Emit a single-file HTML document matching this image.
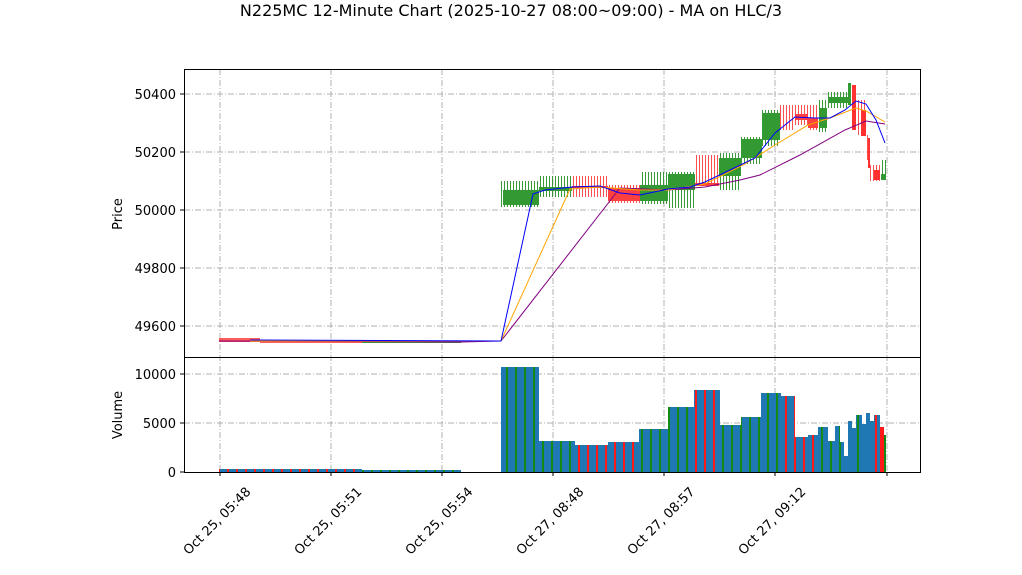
<!DOCTYPE html>
<html><head><meta charset="utf-8"><style>
html,body{margin:0;padding:0;background:#fff;}
svg{display:block;font-family:"DejaVu Sans","Liberation Sans",sans-serif;}
</style></head><body>
<svg width="1022" height="575" viewBox="0 0 1022 575" xmlns="http://www.w3.org/2000/svg">
<defs>
<pattern id="wg" width="3" height="10" patternUnits="userSpaceOnUse"><rect x="0" y="0" width="1" height="10" fill="#3a9a3a"/></pattern>
<pattern id="wr" width="3" height="10" patternUnits="userSpaceOnUse"><rect x="0" y="0" width="1" height="10" fill="#ff5050"/></pattern>
<pattern id="vg" width="9" height="10" patternUnits="userSpaceOnUse"><rect width="9" height="10" fill="#1f77b4"/><rect x="2" width="2" height="10" fill="#138a13"/></pattern>
<pattern id="vr" width="9" height="10" patternUnits="userSpaceOnUse"><rect width="9" height="10" fill="#1f77b4"/><rect x="2" width="2" height="10" fill="#ff1a1a"/></pattern>
</defs>
<rect width="1022" height="575" fill="#fff"/>
<text x="511" y="16" font-size="16" text-anchor="middle">N225MC 12-Minute Chart (2025-10-27 08:00~09:00) - MA on HLC/3</text>

<g stroke="#b0b0b0" stroke-width="1" stroke-dasharray="6,2,1,2">
<line x1="184" y1="94" x2="920" y2="94"/><line x1="184" y1="152" x2="920" y2="152"/><line x1="184" y1="210" x2="920" y2="210"/><line x1="184" y1="268" x2="920" y2="268"/><line x1="184" y1="326" x2="920" y2="326"/>
<line x1="184" y1="374" x2="920" y2="374"/><line x1="184" y1="423" x2="920" y2="423"/>
<line x1="220" y1="69" x2="220" y2="472"/><line x1="331" y1="69" x2="331" y2="472"/><line x1="442" y1="69" x2="442" y2="472"/><line x1="553" y1="69" x2="553" y2="472"/><line x1="664" y1="69" x2="664" y2="472"/><line x1="775" y1="69" x2="775" y2="472"/><line x1="887" y1="69" x2="887" y2="472"/>
</g>

<g>
<rect x="219" y="338" width="41" height="4" fill="#ff4040" opacity="0.85"/>
<rect x="260" y="340" width="102" height="3" fill="#ff4040" opacity="0.85"/>
<rect x="362" y="341" width="99" height="2" fill="#3a9a3a"/>

<rect x="501" y="181" width="38" height="26" fill="url(#wg)"/><rect x="503" y="190" width="36" height="15" fill="#339933"/>
<rect x="539" y="176" width="33" height="21" fill="url(#wg)"/><rect x="539" y="187" width="33" height="4" fill="#339933"/>
<rect x="572" y="176" width="36" height="21" fill="url(#wr)"/><rect x="572" y="186" width="36" height="2" fill="#ff4040"/>
<rect x="608" y="185" width="32" height="18" fill="url(#wr)"/><rect x="608" y="188" width="32" height="13" fill="#ff4040"/>
<rect x="640" y="172" width="28" height="32" fill="url(#wg)"/><rect x="640" y="185" width="28" height="16" fill="#339933"/>
<rect x="668" y="172" width="27" height="36" fill="url(#wg)"/><rect x="668" y="174" width="27" height="16" fill="#339933"/>
<rect x="695" y="155" width="24" height="30" fill="url(#wr)"/><rect x="695" y="183" width="24" height="3" fill="#ff4040"/>
<rect x="719" y="153" width="22" height="37" fill="url(#wg)"/><rect x="719" y="158" width="22" height="18" fill="#339933"/>
<rect x="741" y="137" width="21" height="27" fill="url(#wg)"/><rect x="741" y="139" width="21" height="19" fill="#339933"/>
<rect x="762" y="110" width="18" height="36" fill="url(#wg)"/><rect x="762" y="113" width="18" height="27" fill="#339933"/>
<rect x="780" y="105" width="15" height="25" fill="url(#wr)"/><rect x="795" y="105" width="13" height="20" fill="url(#wr)"/><rect x="795" y="114" width="13" height="6" fill="#ff4040"/>
<rect x="808" y="105" width="10" height="25" fill="url(#wr)"/><rect x="808" y="118" width="10" height="10" fill="#ff4040"/>
<rect x="818" y="100" width="10" height="32" fill="url(#wg)"/><rect x="819" y="108" width="8" height="20" fill="#339933"/>
<rect x="828" y="92" width="20" height="16" fill="url(#wg)"/><rect x="828" y="97" width="20" height="6" fill="#339933"/>
<rect x="848" y="83" width="3" height="22" fill="#339933"/>
<rect x="852" y="85" width="4" height="45" fill="#ff3030"/>
<rect x="856" y="100" width="10" height="35" fill="url(#wr)"/><rect x="861" y="110" width="5" height="26" fill="#ff3030"/>
<rect x="866" y="135" width="4" height="25" fill="url(#wr)"/><rect x="868" y="138" width="2" height="30" fill="#ff3030"/>
<rect x="870" y="165" width="10" height="16" fill="url(#wr)"/><rect x="874" y="170" width="6" height="10" fill="#ff3030"/>
<rect x="880" y="160" width="6" height="20" fill="url(#wg)"/><rect x="881" y="174" width="5" height="6" fill="#339933"/>
</g>

<g fill="none" stroke-width="1">
<polyline stroke="#800080" points="219,341 461,342 501,341 620,188 668,190 705,187 740,180 760,175 800,155 845,130 866,121 885,124"/>
<polyline stroke="#ffa500" points="250,341 501,341 570,189 600,187 640,190 668,190 705,184 745,164 775,145 808,125 830,118 856,108 866,111 885,122"/>
<polyline stroke="#0000ff" points="250,340 501,341 533,194 545,190 572,187 600,186 620,193 640,195 668,189 690,187 705,182 730,170 755,158 775,133 795,117 815,118 830,118 845,110 856,101 866,104 876,120 885,143"/>
</g>

<g>
<rect x="219" y="469" width="143" height="3" fill="url(#vr)"/>
<rect x="362" y="470" width="99" height="2" fill="url(#vg)"/>
<rect x="501" y="367" width="38" height="105" fill="url(#vg)"/>
<rect x="539" y="441" width="36" height="31" fill="url(#vg)"/>
<rect x="575" y="445" width="33" height="27" fill="url(#vr)"/>
<rect x="608" y="442" width="31" height="30" fill="url(#vr)"/>
<rect x="639" y="429" width="29" height="43" fill="url(#vg)"/>
<rect x="668" y="407" width="26" height="65" fill="url(#vg)"/>
<rect x="694" y="390" width="26" height="82" fill="url(#vr)"/>
<rect x="720" y="425" width="21" height="47" fill="url(#vg)"/>
<rect x="741" y="417" width="20" height="55" fill="url(#vg)"/>
<rect x="761" y="393" width="20" height="79" fill="url(#vg)"/>
<rect x="781" y="396" width="14" height="76" fill="url(#vr)"/>
<rect x="795" y="437" width="13" height="35" fill="url(#vr)"/>
<rect x="808" y="435" width="10" height="37" fill="url(#vr)"/>
<rect x="818" y="427" width="10" height="45" fill="url(#vg)"/>
<rect x="828" y="441" width="7" height="31" fill="url(#vg)"/>
<rect x="835" y="426" width="5" height="46" fill="url(#vg)"/>
<rect x="840" y="442" width="4" height="30" fill="url(#vg)"/>
<rect x="844" y="456" width="4" height="16" fill="#1f77b4"/>
<rect x="848" y="421" width="4" height="51" fill="#1f77b4"/>
<rect x="852" y="428" width="4" height="44" fill="#1f77b4"/>
<rect x="856" y="415" width="6" height="57" fill="url(#vg)"/>
<rect x="862" y="424" width="4" height="48" fill="url(#vr)"/>
<rect x="866" y="413" width="4" height="59" fill="#1f77b4"/>
<rect x="870" y="421" width="4" height="51" fill="url(#vr)"/>
<rect x="874" y="415" width="6" height="57" fill="url(#vr)"/>
<rect x="880" y="427" width="4" height="45" fill="#ff1a1a"/>
<rect x="884" y="435" width="2" height="37" fill="#138a13"/>
</g>

<g fill="none" stroke="#000" stroke-width="1">
<rect x="184.5" y="69.5" width="736" height="288"/>
<rect x="184.5" y="357.5" width="736" height="115"/>
</g>
<g stroke="#000" stroke-width="1">
<line x1="180" y1="94" x2="184" y2="94"/><line x1="180" y1="152" x2="184" y2="152"/><line x1="180" y1="210" x2="184" y2="210"/><line x1="180" y1="268" x2="184" y2="268"/><line x1="180" y1="326" x2="184" y2="326"/>
<line x1="180" y1="374" x2="184" y2="374"/><line x1="180" y1="423" x2="184" y2="423"/><line x1="180" y1="472" x2="184" y2="472"/>
<line x1="220" y1="472" x2="220" y2="476"/><line x1="331" y1="472" x2="331" y2="476"/><line x1="442" y1="472" x2="442" y2="476"/><line x1="553" y1="472" x2="553" y2="476"/><line x1="664" y1="472" x2="664" y2="476"/><line x1="775" y1="472" x2="775" y2="476"/><line x1="887" y1="472" x2="887" y2="476"/>
</g>
<g font-size="13" text-anchor="end">
<text x="176" y="99">50400</text><text x="176" y="157">50200</text><text x="176" y="215">50000</text><text x="176" y="273">49800</text><text x="176" y="331">49600</text>
<text x="176" y="379">10000</text><text x="176" y="428">5000</text><text x="176" y="477">0</text>
</g>
<text font-size="13" text-anchor="middle" transform="translate(122,214) rotate(-90)">Price</text>
<text font-size="13" text-anchor="middle" transform="translate(122,415) rotate(-90)">Volume</text>
<g font-size="13" text-anchor="middle">
<text transform="translate(220,524) rotate(-45)">Oct 25, 05:48</text>
<text transform="translate(331,524) rotate(-45)">Oct 25, 05:51</text>
<text transform="translate(442,524) rotate(-45)">Oct 25, 05:54</text>
<text transform="translate(553,524) rotate(-45)">Oct 27, 08:48</text>
<text transform="translate(664,524) rotate(-45)">Oct 27, 08:57</text>
<text transform="translate(775,524) rotate(-45)">Oct 27, 09:12</text>
</g>
</svg>
</body></html>
